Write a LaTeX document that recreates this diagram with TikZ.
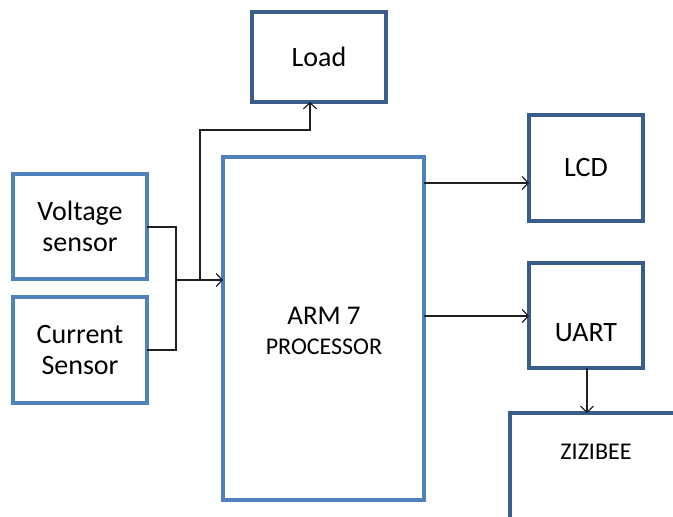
\documentclass[tikz,border=0pt]{standalone}
\usepackage{fontspec}
\setmainfont{Carlito}
\usetikzlibrary{arrows.meta}
\definecolor{lightb}{HTML}{4F81BD}
\definecolor{darkb}{HTML}{385D8A}
\definecolor{wire}{HTML}{202020}
\begin{document}
\begin{tikzpicture}[x=1pt,y=-1pt,
  lbox/.style={draw=lightb,line width=3.3pt,rectangle,inner sep=0pt,outer sep=0pt,align=center,font=\fontsize{28}{30.5}\selectfont},
  dbox/.style={draw=darkb,line width=3.3pt,rectangle,inner sep=0pt,outer sep=0pt,align=center,font=\fontsize{28}{30.5}\selectfont},
  wireline/.style={draw=wire,line width=1.2pt},
  arr/.style={wireline,-{Straight Barb[length=6pt,width=13pt,line width=1.2pt]}},
  small/.style={font=\fontsize{24}{30}\selectfont}
]
\useasboundingbox (0,0) rectangle (673,517);
\clip (0,0) rectangle (673,517);
\node[dbox,minimum width=134pt,minimum height=90pt] (load) at (319,57) {Load};
\node[lbox,minimum width=134pt,minimum height=105pt] (volt) at (80,226.5) {Voltage\\sensor};
\node[lbox,minimum width=134pt,minimum height=106pt] (curr) at (80,350) {Current\\Sensor};
\node[lbox,minimum width=201pt,minimum height=343pt] (arm) at (323.5,328.5) {};
\node (armtxt) at (324,331) [align=center,font=\fontsize{27}{30}\selectfont] {ARM 7\\{\fontsize{24}{30}\selectfont PROCESSOR}};
\node[dbox,minimum width=114pt,minimum height=106pt] (lcd) at (586,168) {LCD};
\node[dbox,minimum width=114pt,minimum height=105pt] (uart) at (586,315.5) {};
\node[font=\fontsize{28}{30}\selectfont] (uarttxt) at (586,333) {UART};
\node[dbox,minimum width=190pt,minimum height=147pt] (zig) at (605,486.5) {};
\node[small] (zigtxt) at (596,452) {ZIZIBEE};
% junction coordinates
\coordinate (jv) at (176,227);
\coordinate (jc) at (176,350);
\coordinate (jm) at (176,280);
\coordinate (jl) at (200,280);
\coordinate (jt) at (200,130);
\coordinate (jtl) at (310,130);
\draw[wireline] (volt.east |- jv) -- (jv) -- (jc) -- (curr.east |- jc);
\draw[arr] (jm) -- (arm.west |- jm);
\draw[arr] (jl) -- (jt) -- (jtl) -- (load.south -| jtl);
\draw[arr] (arm.east |- 0,183) -- (lcd.west |- 0,183);
\draw[arr] (arm.east |- 0,316) -- (uart.west |- 0,316);
\draw[arr] (uart.south -| 587,0) -- (zig.north -| 587,0);
\end{tikzpicture}
\end{document}
